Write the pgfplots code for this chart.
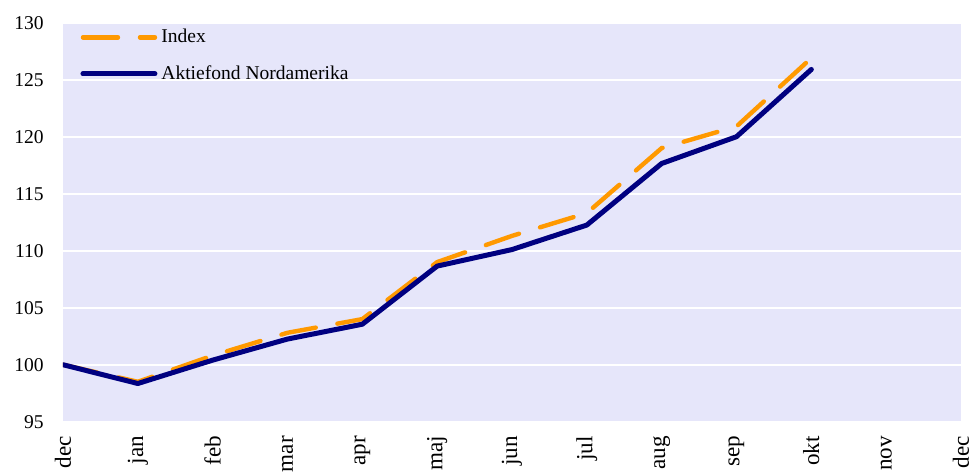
\documentclass[border=0pt]{standalone}
\usepackage{pgfplots}
\pgfplotsset{compat=1.18}
\usepackage{fontspec}
\setmainfont{Liberation Serif}
\definecolor{bgc}{HTML}{E6E6FA}
\definecolor{idx}{HTML}{FF9900}
\definecolor{nav}{HTML}{000080}
\begin{document}
\fontsize{9.8}{11.5}\selectfont
\begin{tikzpicture}
\path[use as bounding box] (-31.5bp,-25.65bp) rectangle (453.5bp,210.85bp);
\begin{axis}[
  scale only axis, width=449bp, height=199.5bp,
  xmin=0, xmax=12, ymin=95, ymax=130,
  axis background/.style={fill=bgc},
  axis line style={draw=none},
  major tick length=0pt,
  xtick={0,1,2,3,4,5,6,7,8,9,10,11,12},
  xticklabels={dec,jan,feb,mar,apr,maj,jun,jul,aug,sep,okt,nov,dec},
  ytick={95,100,105,110,115,120,125,130},
  ymajorgrids, grid style={white, line width=1.2bp},
  /pgf/number format/assume math mode=true,
  yticklabel style={font=\fontsize{9.8}{11.5}\selectfont, anchor=east, inner sep=0pt, xshift=-9.5bp},
  xticklabel style={font=\fontsize{11.6}{13}\selectfont, rotate=90, anchor=east, inner sep=0pt, xshift=-7bp},
  legend style={draw=none, fill=none, at={(axis description cs:0.019,0.995)}, anchor=north west, inner sep=0pt, row sep=6bp, font=\fontsize{9.8}{11.5}\selectfont, cells={anchor=west}},
  legend image code/.code={\draw[#1] (0bp,0bp) -- (36bp,0bp);},
  legend cell align=left,
]
\addplot[idx, line width=2.2bp, line cap=round, dash pattern=on 17.5bp off 11bp] coordinates {
(0,100) (1,98.5) (2,100.8) (3,102.8) (4,104) (5,109) (6,111.3) (7,113.3) (8,119) (9,120.9) (10,126.9)};
\addlegendentry{Index}
\addplot[nav, line width=2.5bp, line cap=round, line join=round] coordinates {
(0,100) (1,98.35) (2,100.4) (3,102.25) (4,103.55) (5,108.65) (6,110.1) (7,112.25) (8,117.65) (9,120.0) (10,125.9)};
\addlegendentry{Aktiefond Nordamerika}
\end{axis}
\end{tikzpicture}
\end{document}
